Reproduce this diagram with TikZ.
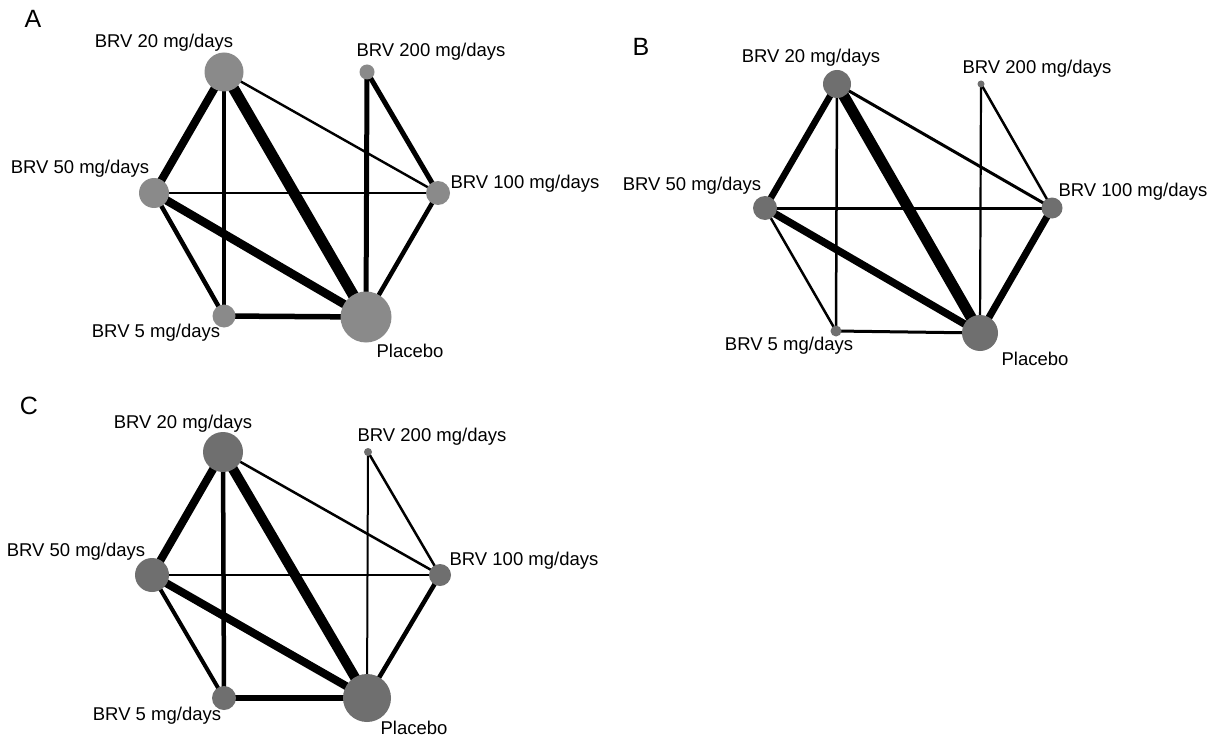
\documentclass[tikz,border=0pt]{standalone}
\usepackage{fontspec}
\setmainfont{Liberation Sans}
\usetikzlibrary{backgrounds}
\definecolor{NodeLight}{HTML}{8A8A8A}
\definecolor{NodeDark}{HTML}{6F6F6F}
\newcommand{\drugnode}[4]{%
  \node[circle,inner sep=0pt,minimum size=#3,fill=#1] (#2) at (#4) {};}
\tikzset{druglabel/.style={font=\fontsize{18.5}{20}\selectfont,inner sep=0pt},
  panellabel/.style={font=\fontsize{25}{27}\selectfont,inner sep=0pt}}

\begin{document}
\begin{tikzpicture}[x=1pt,y=-1pt]
    \useasboundingbox (0,0) rectangle (1217,738);
    % panel A
    \node[panellabel] (lA) at (33,19) {A};
    \drugnode{NodeLight}{a20}{39pt}{224,72}
    \drugnode{NodeLight}{a200}{15pt}{367,72}
    \drugnode{NodeLight}{a50}{30pt}{154,193}
    \drugnode{NodeLight}{a100}{24pt}{438,193}
    \drugnode{NodeLight}{a5}{23pt}{224,316}
    \drugnode{NodeLight}{apl}{51pt}{366,317}
    \node[druglabel] (a20t) at (164,43) {BRV 20 mg/days};
    \node[druglabel] (a200t) at (431,52) {BRV 200 mg/days};
    \node[druglabel] (a50t) at (80,169) {BRV 50 mg/days};
    \node[druglabel] (a100t) at (525,184) {BRV 100 mg/days};
    \node[druglabel] (a5t) at (156,333) {BRV 5 mg/days};
    \node[druglabel] (aplt) at (410,351) {Placebo};
    % panel B
    \node[panellabel] (lB) at (641,47) {B};
    \drugnode{NodeDark}{b20}{28pt}{837,84}
    \drugnode{NodeDark}{b200}{7pt}{981,84}
    \drugnode{NodeDark}{b50}{24pt}{765,208}
    \drugnode{NodeDark}{b100}{21pt}{1052,208}
    \drugnode{NodeDark}{b5}{11pt}{836,331}
    \drugnode{NodeDark}{bpl}{36pt}{980,333}
    \node[druglabel] (b20t) at (811,58) {BRV 20 mg/days};
    \node[druglabel] (b200t) at (1037,69) {BRV 200 mg/days};
    \node[druglabel] (b50t) at (692,186) {BRV 50 mg/days};
    \node[druglabel] (b100t) at (1133,192) {BRV 100 mg/days};
    \node[druglabel] (b5t) at (789,346) {BRV 5 mg/days};
    \node[druglabel] (bplt) at (1035,359) {Placebo};
    % panel C
    \node[panellabel] (lC) at (29,406) {C};
    \drugnode{NodeDark}{c20}{40pt}{223,452}
    \drugnode{NodeDark}{c200}{8pt}{368,452}
    \drugnode{NodeDark}{c50}{34pt}{152,575}
    \drugnode{NodeDark}{c100}{22pt}{440,575}
    \drugnode{NodeDark}{c5}{24pt}{224,698}
    \drugnode{NodeDark}{cpl}{48pt}{367,698}
    \node[druglabel] (c20t) at (183,424) {BRV 20 mg/days};
    \node[druglabel] (c200t) at (432,437) {BRV 200 mg/days};
    \node[druglabel] (c50t) at (76,552) {BRV 50 mg/days};
    \node[druglabel] (c100t) at (524,561) {BRV 100 mg/days};
    \node[druglabel] (c5t) at (157,716) {BRV 5 mg/days};
    \node[druglabel] (cplt) at (414,728) {Placebo};
    % edges, widths follow the number of trials
    \begin{pgfonlayer}{background}
      \fill[white] (0,0) rectangle (1217,738);
      \foreach \a/\b/\w in {a20/a50/8,a20/a5/4.5,a20/apl/11,a20/a100/2.4,
          a200/apl/5,a200/a100/5,a50/a100/2.4,a50/apl/8.5,a50/a5/4.5,
          a5/apl/5.5,a100/apl/4.5,
          b20/b50/6.5,b20/b5/2.5,b20/bpl/11,b20/b100/3,b200/bpl/2.2,
          b200/b100/2.5,b50/b100/3,b50/bpl/7.5,b50/b5/2.5,b5/bpl/3,b100/bpl/7,
          c20/c50/8,c20/c5/4.5,c20/cpl/10,c20/c100/2.5,c200/cpl/2,
          c200/c100/2.5,c50/c100/2.5,c50/cpl/8,c50/c5/4,c5/cpl/5.5,c100/cpl/4.5}
        \draw[line width=\w pt] (\a.center) -- (\b.center);
    \end{pgfonlayer}
  \end{tikzpicture}
\end{document}
